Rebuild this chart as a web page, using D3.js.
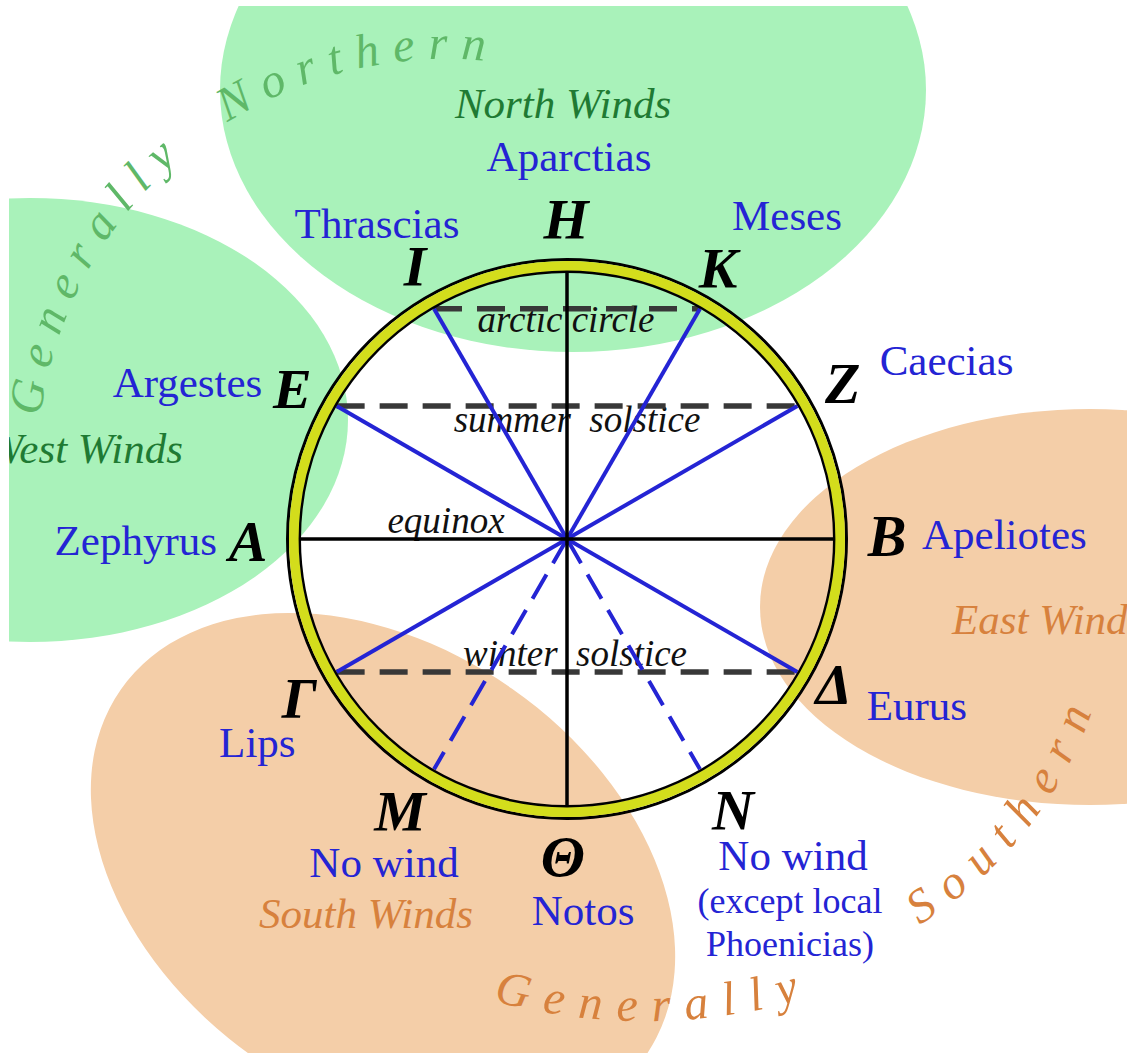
<!DOCTYPE html>
<html>
<head>
<meta charset="utf-8">
<script src="https://cdn.jsdelivr.net/npm/d3@7"></script>
<style>
  html, body { margin: 0; padding: 0; background: #fff; }
  svg { display: block; }
  text { font-family: "Liberation Serif", "Times New Roman", serif; }
</style>
</head>
<body>
<div id="chart"></div>
<script>
// Twelve points of the wind rose, clockwise from north
var pointLetters = ["Η", "Κ", "Ζ", "Β", "Δ", "Ν", "Θ", "Μ", "Γ", "Α", "Ε", "Ι"];
var pointBearings = [0, 30, 60, 90, 120, 150, 180, 210, 240, 270, 300, 330];
var windNames = ["Aparctias", "Meses", "Caecias", "Apeliotes", "Eurus", "No wind", "Notos", "No wind", "Lips", "Zephyrus", "Argestes", "Thrascias"];
var windNotes = [[], [], [], [], [], ["(except local", "Phoenicias)"], [], [], [], [], [], []];
var hasWind = [true, true, true, true, true, false, true, false, true, true, true, true];

// lines through the centre and the parallels of the sky
var diameters = [["Η", "Θ"], ["Α", "Β"]];
var parallelNames = ["arctic circle", "summer  solstice", "equinox", "winter  solstice"];
var parallelEnds = [["Ι", "Κ"], ["Ε", "Ζ"], ["Α", "Β"], ["Γ", "Δ"]];

// wind regions
var regionNames = ["North Winds", "West Winds", "East Winds", "South Winds"];
var regionGroups = ["Generally Northern", "Generally Southern"];

var blue = "#2424d4", green = "#a9f2ba", peach = "#f4cea8";
var darkGreen = "#1f7a33", orange = "#d7813d", midGreen = "#5fb868", ringYellow = "#d3dd1c";

function drawRose() {
    var width = 1132, height = 1053;
    var cx = 567, cy = 539, rIn = 266, rLetter = 316;

    var angle = d3.scaleLinear().domain([0, 360]).range([0, 2 * Math.PI]);
    function pos(bearing, r) {
        var p = d3.pointRadial(angle(bearing), r);
        return [cx + p[0], cy + p[1]];
    }
    function byLetter(letter, r) {
        return pos(pointBearings[pointLetters.indexOf(letter)], r);
    }
    function rad(deg) { return deg * Math.PI / 180; }

    var svg = d3.select("#chart").append("svg")
        .attr("width", width)
        .attr("height", height);

    var defs = svg.append("defs");
    defs.append("clipPath").attr("id", "frame")
        .append("rect").attr("x", 9).attr("y", 6).attr("width", 1118).attr("height", 1047);

    var g = svg.append("g").attr("clip-path", "url(#frame)");

    // coloured regions behind the rose (north, west, east, south)
    var regionShapes = [
        { cx: 573, cy: 90, rx: 353, ry: 262, rot: 0, fill: green },
        { cx: 30, cy: 420, rx: 318, ry: 222, rot: 0, fill: green },
        { cx: 1090, cy: 607, rx: 330, ry: 198, rot: 0, fill: peach },
        { cx: 383, cy: 873, rx: 320, ry: 225, rot: 35, fill: peach }
    ];
    g.append("g").selectAll("ellipse")
        .data(regionShapes)
        .enter()
        .append("ellipse")
        .attr("rx", function (d) { return d.rx; })
        .attr("ry", function (d) { return d.ry; })
        .attr("transform", function (d) { return "translate(" + d.cx + "," + d.cy + ") rotate(" + d.rot + ")"; })
        .attr("fill", function (d) { return d.fill; });

    // parallel labels sit under the lines
    var parallelLabel = [[-1, 23], [10, 26], [-121, -6], [8, -6]];
    parallelNames.forEach(function (name, i) {
        var y = byLetter(parallelEnds[i][0], rIn)[1];
        g.append("text")
            .attr("x", cx + parallelLabel[i][0])
            .attr("y", y + parallelLabel[i][1])
            .attr("text-anchor", "middle")
            .attr("font-size", 37)
            .attr("font-style", "italic")
            .style("white-space", "pre")
            .attr("fill", "#111")
            .text(name);
    });

    // dashed parallels (the equinox is a diameter)
    var isDiameter = function (pair) {
        return diameters.some(function (d) { return d[0] === pair[0] && d[1] === pair[1]; });
    };
    parallelEnds.filter(function (p) { return !isDiameter(p); }).forEach(function (p) {
        var a = byLetter(p[0], rIn), b = byLetter(p[1], rIn);
        g.append("line")
            .attr("x1", a[0]).attr("y1", a[1])
            .attr("x2", b[0]).attr("y2", b[1])
            .attr("stroke", "#383838")
            .attr("stroke-width", 5.5)
            .attr("stroke-dasharray", "28 15");
    });

    // wind rays from the centre
    var inDiameter = function (l) {
        return diameters.some(function (d) { return d.indexOf(l) >= 0; });
    };
    pointLetters.forEach(function (l, i) {
        if (inDiameter(l)) return;
        var p = pos(pointBearings[i], rIn);
        g.append("line")
            .attr("x1", cx).attr("y1", cy)
            .attr("x2", p[0]).attr("y2", p[1])
            .attr("stroke", blue)
            .attr("stroke-width", 4)
            .attr("stroke-dasharray", hasWind[i] ? null : "28 13");
    });

    diameters.forEach(function (d) {
        var a = byLetter(d[0], rIn), b = byLetter(d[1], rIn);
        g.append("line")
            .attr("x1", a[0]).attr("y1", a[1])
            .attr("x2", b[0]).attr("y2", b[1])
            .attr("stroke", "#000")
            .attr("stroke-width", 3.5);
    });

    // the horizon ring
    g.append("circle").attr("cx", cx).attr("cy", cy).attr("r", 279.5)
        .attr("fill", "none").attr("stroke", "#000").attr("stroke-width", 3);
    g.append("circle").attr("cx", cx).attr("cy", cy).attr("r", 273)
        .attr("fill", "none").attr("stroke", ringYellow).attr("stroke-width", 10);
    g.append("circle").attr("cx", cx).attr("cy", cy).attr("r", 267.2)
        .attr("fill", "none").attr("stroke", "#000").attr("stroke-width", 2.4);

    // point letters (small hand nudges so the italic capitals sit like the original)
    var letterNudge = [
        [-1, -3], [-7, 4], [2, 3], [4, -3], [-7, -12], [8, -2],
        [-4, 2], [-9, -1], [6, 2], [-3, 3], [-1, 9], [6, 2]
    ];
    pointLetters.forEach(function (l, i) {
        var p = pos(pointBearings[i], rLetter);
        g.append("text")
            .attr("x", p[0] + letterNudge[i][0])
            .attr("y", p[1] + 19 + letterNudge[i][1])
            .attr("text-anchor", "middle")
            .attr("font-size", 58)
            .attr("font-weight", "bold")
            .attr("font-style", "italic")
            .attr("fill", "#000")
            .text(l);
    });

    // wind names, placed next to their letters
    var nameOffset = [
        [2, -52, "middle"], [62, -35, "middle"], [39, -6, "start"], [39, 10, "start"],
        [26, 23, "start"], [68, 57, "middle"], [16, 70, "middle"], [-25, 64, "middle"],
        [-36, 60, "middle"], [-34, 16, "end"], [-31, 16, "end"], [-32, -27, "middle"]
    ];
    windNames.forEach(function (name, i) {
        var p = pos(pointBearings[i], rLetter);
        var x = p[0] + nameOffset[i][0], y = p[1] + nameOffset[i][1];
        g.append("text")
            .attr("x", x).attr("y", y)
            .attr("text-anchor", nameOffset[i][2])
            .attr("font-size", 43)
            .attr("fill", blue)
            .text(name);
        windNotes[i].forEach(function (note, j) {
            g.append("text")
                .attr("x", x - 3).attr("y", y + 43 * (j + 1))
                .attr("text-anchor", nameOffset[i][2])
                .attr("font-size", 36)
                .attr("fill", blue)
                .text(note);
        });
    });

    // region names
    var regionLabel = [
        [563, 118, "middle", darkGreen], [183, 463, "end", darkGreen],
        [952, 634, "start", orange], [366, 928, "middle", orange]
    ];
    regionNames.forEach(function (name, i) {
        g.append("text")
            .attr("x", regionLabel[i][0]).attr("y", regionLabel[i][1])
            .attr("text-anchor", regionLabel[i][2])
            .attr("font-size", 43)
            .attr("font-style", "italic")
            .attr("fill", regionLabel[i][3])
            .text(name);
    });

    // "Generally ..." written along arcs
    var arcs = [
        { cx: 447, cy: 469, r: 410, a0: -190, a1: -70, ccw: false },
        { cx: 645, cy: 436, r: 585, a0: 115, a1: 15, ccw: true },
        { cx: 701, cy: 572, r: 415, a0: 90, a1: -20, ccw: true }
    ];
    arcs.forEach(function (a, i) {
        var p = d3.path();
        p.arc(a.cx, a.cy, a.r, rad(a.a0), rad(a.a1), a.ccw);
        defs.append("path").attr("id", "arc" + i).attr("d", p.toString());
    });

    var arcWords = [
        { arcs: [0, 0], offsets: [124, 484], spacing: [13.3, 13.3], color: midGreen },
        { arcs: [1, 2], offsets: [102, 230], spacing: [14.8, 15.1], color: orange }
    ];
    regionGroups.forEach(function (label, i) {
        label.split(" ").forEach(function (word, j) {
            g.append("text")
                .attr("font-size", 48)
                .attr("font-style", "italic")
                .attr("letter-spacing", arcWords[i].spacing[j])
                .attr("fill", arcWords[i].color)
                .append("textPath")
                .attr("href", "#arc" + arcWords[i].arcs[j])
                .attr("startOffset", arcWords[i].offsets[j])
                .text(word);
        });
    });
}

drawRose();
</script>
</body>
</html>
